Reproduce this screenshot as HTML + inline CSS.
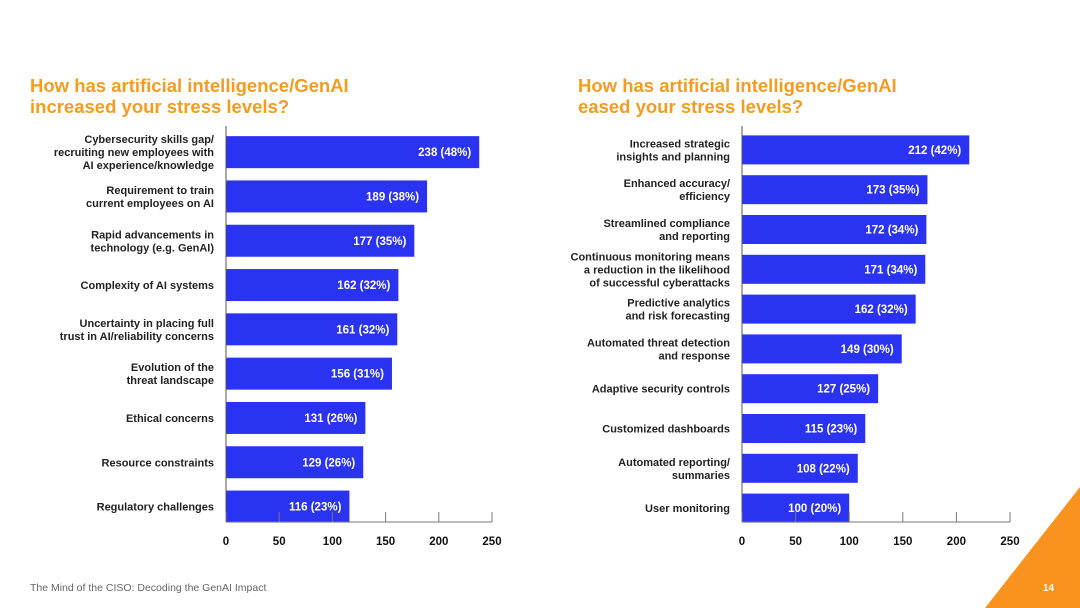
<!DOCTYPE html>
<html><head><meta charset="utf-8"><style>
body{margin:0;width:1080px;height:608px;background:#fff;overflow:hidden;font-family:"Liberation Sans",sans-serif;position:relative}
.t{position:absolute;color:#f39c1f;font-weight:bold;font-size:18.5px;line-height:21px}
svg{position:absolute;left:0;top:0}
</style></head><body>
<div class="t" style="left:30px;top:75px">How has artificial intelligence/GenAI<br>increased your stress levels?</div>
<div class="t" style="left:578px;top:75px">How has artificial intelligence/GenAI<br>eased your stress levels?</div>
<svg id="c" width="1080" height="608">
<polygon points="1080,487 1080,608 985,608" fill="#f7931e"/>
<text x="1043" y="591" fill="#fff" font-size="10" font-weight="bold">14</text>
<text x="30" y="591" fill="#666" font-size="10.5">The Mind of the CISO: Decoding the GenAI Impact</text>
</svg>
<script>
const leftCats=[["Cybersecurity skills gap/","recruiting new employees with","AI experience/knowledge"],["Requirement to train","current employees on AI"],["Rapid advancements in","technology (e.g. GenAI)"],["Complexity of AI systems"],["Uncertainty in placing full","trust in AI/reliability concerns"],["Evolution of the","threat landscape"],["Ethical concerns"],["Resource constraints"],["Regulatory challenges"]];
const leftVals=[238,189,177,162,161,156,131,129,116];
const leftPct=[48,38,35,32,32,31,26,26,23];
const rightCats=[["Increased strategic","insights and planning"],["Enhanced accuracy/","efficiency"],["Streamlined compliance","and reporting"],["Continuous monitoring means","a reduction in the likelihood","of successful cyberattacks"],["Predictive analytics","and risk forecasting"],["Automated threat detection","and response"],["Adaptive security controls"],["Customized dashboards"],["Automated reporting/","summaries"],["User monitoring"]];
const rightVals=[212,173,172,171,162,149,127,115,108,100];
const rightPct=[42,35,34,34,32,30,25,23,22,20];
const ticks=[0,50,100,150,200,250];
const svg=document.getElementById('c');
const NS='http://www.w3.org/2000/svg';
function mk(tag,attrs,txt){const e=document.createElementNS(NS,tag);for(const k in attrs)e.setAttribute(k,attrs[k]);if(txt!==undefined)e.textContent=txt;svg.appendChild(e);return e;}
function chart(side,cats,vals,pct,x0,x250,top,step,bh,axisY){
  const sx=v=>x0+(x250-x0)*v/250;
  const cy=i=>top+step*(i+0.5);
  cats.forEach((c,i)=>{
    const r=mk('rect',{x:x0,y:cy(i)-bh/2,width:sx(vals[i])-x0,height:bh,fill:'#2b33f2'});
    
    
    const v=mk('text',{x:sx(vals[i])-8,y:cy(i)+4,fill:'#fff','font-size':11.5,'font-weight':'bold','text-anchor':'end'},vals[i]+' ('+pct[i]+'%)');
    
    
    const n=c.length,lh=13;
    c.forEach((ln,j)=>{
      const t=mk('text',{x:x0-12,y:cy(i)+4+(j-(n-1)/2)*lh,fill:'#222','font-size':11,'font-weight':'bold','text-anchor':'end'},ln);
      
      
    });
  });
  const ax=mk('line',{x1:x0,y1:top-4,x2:x0,y2:axisY,stroke:'#555','stroke-width':1});
  
  
  const xa=mk('line',{x1:x0,y1:axisY,x2:x250,y2:axisY,stroke:'#777','stroke-width':1});
  
  
  ticks.forEach(t=>{
    const tk=mk('line',{x1:sx(t),y1:axisY-10,x2:sx(t),y2:axisY,stroke:'#777'});
    
    
    const tl=mk('text',{x:sx(t),y:axisY+23,fill:'#111','font-size':11.5,'font-weight':'bold','text-anchor':'middle'},t);
    
    
  });
}
chart('left',leftCats,leftVals,leftPct,226,492,130,44.3,32,522);
chart('right',rightCats,rightVals,rightPct,742,1010,130,39.8,29,522);
</script>
</body></html>
